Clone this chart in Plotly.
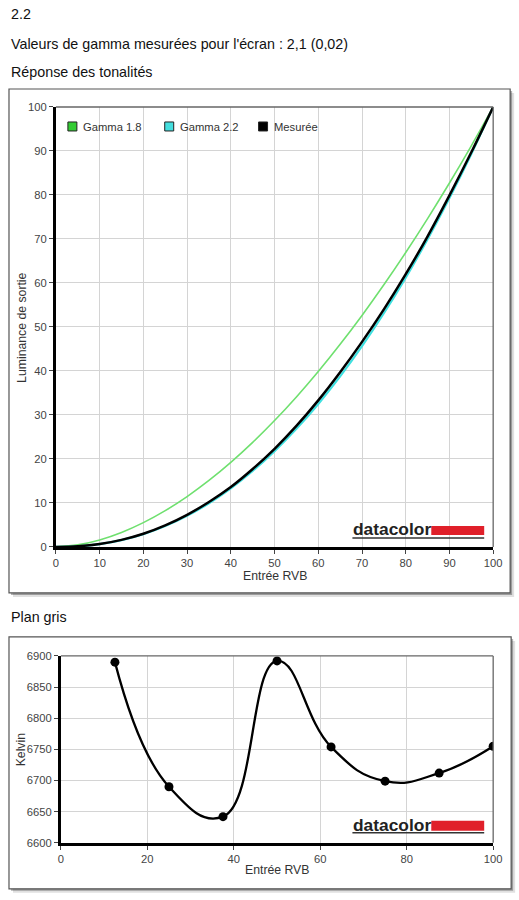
import plotly.graph_objects as go

# Empirically the capture maps figure pixels to picture pixels as
#   picture = K * figure + O   (K ~ 0.979 / 0.987, O ~ 2 / 5 px).
# The layout below is written in picture (reference) pixels and converted.
KX, KY = 0.979, 0.987
OX, OY = 2.0, 5.0
W, H = 530, 912

# ---------- data ----------
x_in = [0, 5, 10, 15, 20, 25, 30, 35, 40, 45, 50, 55, 60, 65, 70, 75, 80, 85, 90, 95, 100]
gamma18 = [0, 0.46, 1.59, 3.29, 5.52, 8.25, 11.45, 15.11, 19.22, 23.76, 28.72, 34.09,
           39.87, 46.05, 52.62, 59.58, 66.92, 74.64, 82.72, 91.18, 100]
gamma22 = [0, 0.14, 0.63, 1.54, 2.90, 4.74, 7.07, 9.93, 13.32, 17.26, 21.76, 26.84,
           32.50, 38.76, 45.63, 53.11, 61.21, 69.94, 79.31, 89.33, 100]
measured = [0, 0.15, 0.65, 1.6, 3.0, 4.9, 7.3, 10.2, 13.6, 17.7, 22.3, 27.5,
            33.3, 39.7, 46.6, 54.0, 62.0, 70.6, 79.9, 89.7, 100]

grey_x = [12.5, 25, 37.5, 50, 62.5, 75, 87.5, 100]
kelvin = [6890, 6690, 6642, 6892, 6754, 6699, 6712, 6755]

legend_names = ["Gamma 1.8", "Gamma 2.2", "Mesurée"]
legend_colors = ["#33cc33", "#44dede", "#000000"]

x_ticks_top = [0, 10, 20, 30, 40, 50, 60, 70, 80, 90, 100]
y_ticks_top = [0, 10, 20, 30, 40, 50, 60, 70, 80, 90, 100]
x_ticks_bot = [0, 20, 40, 60, 80, 100]
y_ticks_bot = [6600, 6650, 6700, 6750, 6800, 6850, 6900]

def px(x):
    return ((x - OX) / KX) / W

def py(y):
    return 1 - ((y - OY) / KY) / H

def fs(size):
    return size / KX

FONT = "Liberation Sans, Arial, sans-serif"
GREEN = "#6fe06f"
CYAN = "#3fe0e0"

fig = go.Figure()

fig.add_trace(go.Scatter(x=x_in, y=gamma18, mode="lines", line=dict(color=GREEN, width=1.6, shape="spline"),
                         showlegend=False, xaxis="x", yaxis="y"))
fig.add_trace(go.Scatter(x=x_in, y=gamma22, mode="lines", line=dict(color=CYAN, width=2.2, shape="spline"),
                         showlegend=False, xaxis="x", yaxis="y"))
fig.add_trace(go.Scatter(x=x_in, y=measured, mode="lines", line=dict(color="#000000", width=2.5, shape="spline"),
                         showlegend=False, xaxis="x", yaxis="y"))

fig.add_trace(go.Scatter(x=grey_x, y=kelvin, mode="lines+markers",
                         line=dict(color="#000000", width=2.3, shape="spline", smoothing=1.3),
                         marker=dict(color="#000000", size=9),
                         showlegend=False, xaxis="x2", yaxis="y2"))

axis_common = dict(
    showgrid=True, gridcolor="#d4d4d4", gridwidth=1,
    zeroline=False, showline=True, linecolor="#000000", linewidth=3,
    ticks="outside", ticklen=4, tickcolor="#444", tickwidth=1,
    tickfont=dict(family=FONT, size=fs(11), color="#444"),
    fixedrange=True,
)

top_x0, top_x1 = 55, 493
top_y0, top_y1 = 106, 546
bot_x0, bot_x1 = 60, 493
bot_y0, bot_y1 = 655, 842

fig.update_layout(
    width=W, height=H,
    margin=dict(l=0, r=0, t=0, b=0),
    paper_bgcolor="white", plot_bgcolor="white",
    font=dict(family=FONT, color="#222"),
    showlegend=False,
    xaxis=dict(axis_common, domain=[px(top_x0), px(top_x1)], range=[0, 100],
               tickvals=x_ticks_top, anchor="y"),
    yaxis=dict(axis_common, domain=[py(top_y1), py(top_y0)], range=[0, 100],
               tickvals=y_ticks_top, anchor="x"),
    xaxis2=dict(axis_common, domain=[px(bot_x0), px(bot_x1)], range=[0, 100],
                tickvals=x_ticks_bot, anchor="y2"),
    yaxis2=dict(axis_common, domain=[py(bot_y1), py(bot_y0)], range=[6600, 6900],
                tickvals=y_ticks_bot, anchor="x2"),
)

shapes = []
for (x0, y0, x1, y1) in [(8, 88, 510, 592), (8, 636, 511, 888)]:
    shapes.append(dict(type="rect", xref="paper", yref="paper", layer="below",
                       x0=px(x0 + 4), x1=px(x1 + 4), y0=py(y1 + 4), y1=py(y0 + 4),
                       line=dict(width=0), fillcolor="rgba(0,0,0,0.12)"))
    shapes.append(dict(type="rect", xref="paper", yref="paper", layer="below",
                       x0=px(x0 + 2), x1=px(x1 + 2), y0=py(y1 + 2), y1=py(y0 + 2),
                       line=dict(width=0), fillcolor="rgba(0,0,0,0.3)"))
    shapes.append(dict(type="rect", xref="paper", yref="paper", layer="below",
                       x0=px(x0), x1=px(x1), y0=py(y1), y1=py(y0),
                       line=dict(color="#555", width=1.2), fillcolor="white"))
for (x0, y0, x1, y1) in [(top_x0, top_y0, top_x1, top_y1), (bot_x0, bot_y0, bot_x1, bot_y1)]:
    shapes.append(dict(type="line", xref="paper", yref="paper", x0=px(x0), x1=px(x1), y0=py(y0), y1=py(y0),
                       line=dict(color="#666", width=1.3)))
    shapes.append(dict(type="line", xref="paper", yref="paper", x0=px(x1), x1=px(x1), y0=py(y0), y1=py(y1),
                       line=dict(color="#666", width=1.3)))

def label(text, x, y, size=14, color="#111", xanchor="left", angle=0):
    return dict(text=text, x=px(x), y=py(y), xref="paper", yref="paper", xanchor=xanchor, yanchor="middle",
                showarrow=False, textangle=angle, font=dict(family=FONT, size=fs(size), color=color))

annotations = [
    label("2.2", 8, 13),
    label("Valeurs de gamma mesurées pour l'écran : 2,1 (0,02)", 8, 43),
    label("Réponse des tonalités", 8, 71),
    label("Plan gris", 8, 616),
    label("Entrée RVB", (top_x0 + top_x1) / 2, 575, size=12, color="#333", xanchor="center"),
    label("Luminance de sortie", 21, (top_y0 + top_y1) / 2, size=12, color="#333", xanchor="center", angle=-90),
    label("Entrée RVB", (bot_x0 + bot_x1) / 2, 869, size=12, color="#333", xanchor="center"),
    label("Kelvin", 20, (bot_y0 + bot_y1) / 2, size=12, color="#333", xanchor="center", angle=-90),
]

leg_x = [67, 164, 258]
for name, col, lx in zip(legend_names, legend_colors, leg_x):
    shapes.append(dict(type="rect", xref="paper", yref="paper", x0=px(lx), x1=px(lx + 9),
                       y0=py(130), y1=py(121), line=dict(color="#222", width=1), fillcolor=col))
    annotations.append(label(name, lx + 13, 126, size=11, color="#333"))

for text_c, rect_top, rect_bot, ul in [(528, 525, 534, 537), (824, 820, 830, 832)]:
    annotations.append(label("<b>datacolor</b>", 351, text_c, size=17, color="#222"))
    shapes.append(dict(type="rect", xref="paper", yref="paper", x0=px(431), x1=px(484),
                       y0=py(rect_bot), y1=py(rect_top), line=dict(width=0), fillcolor="#e0202a"))
    shapes.append(dict(type="line", xref="paper", yref="paper", x0=px(352), x1=px(484),
                       y0=py(ul), y1=py(ul), line=dict(color="#333", width=1.5)))

fig.update_layout(shapes=shapes, annotations=annotations)

fig.write_html("out.html")
